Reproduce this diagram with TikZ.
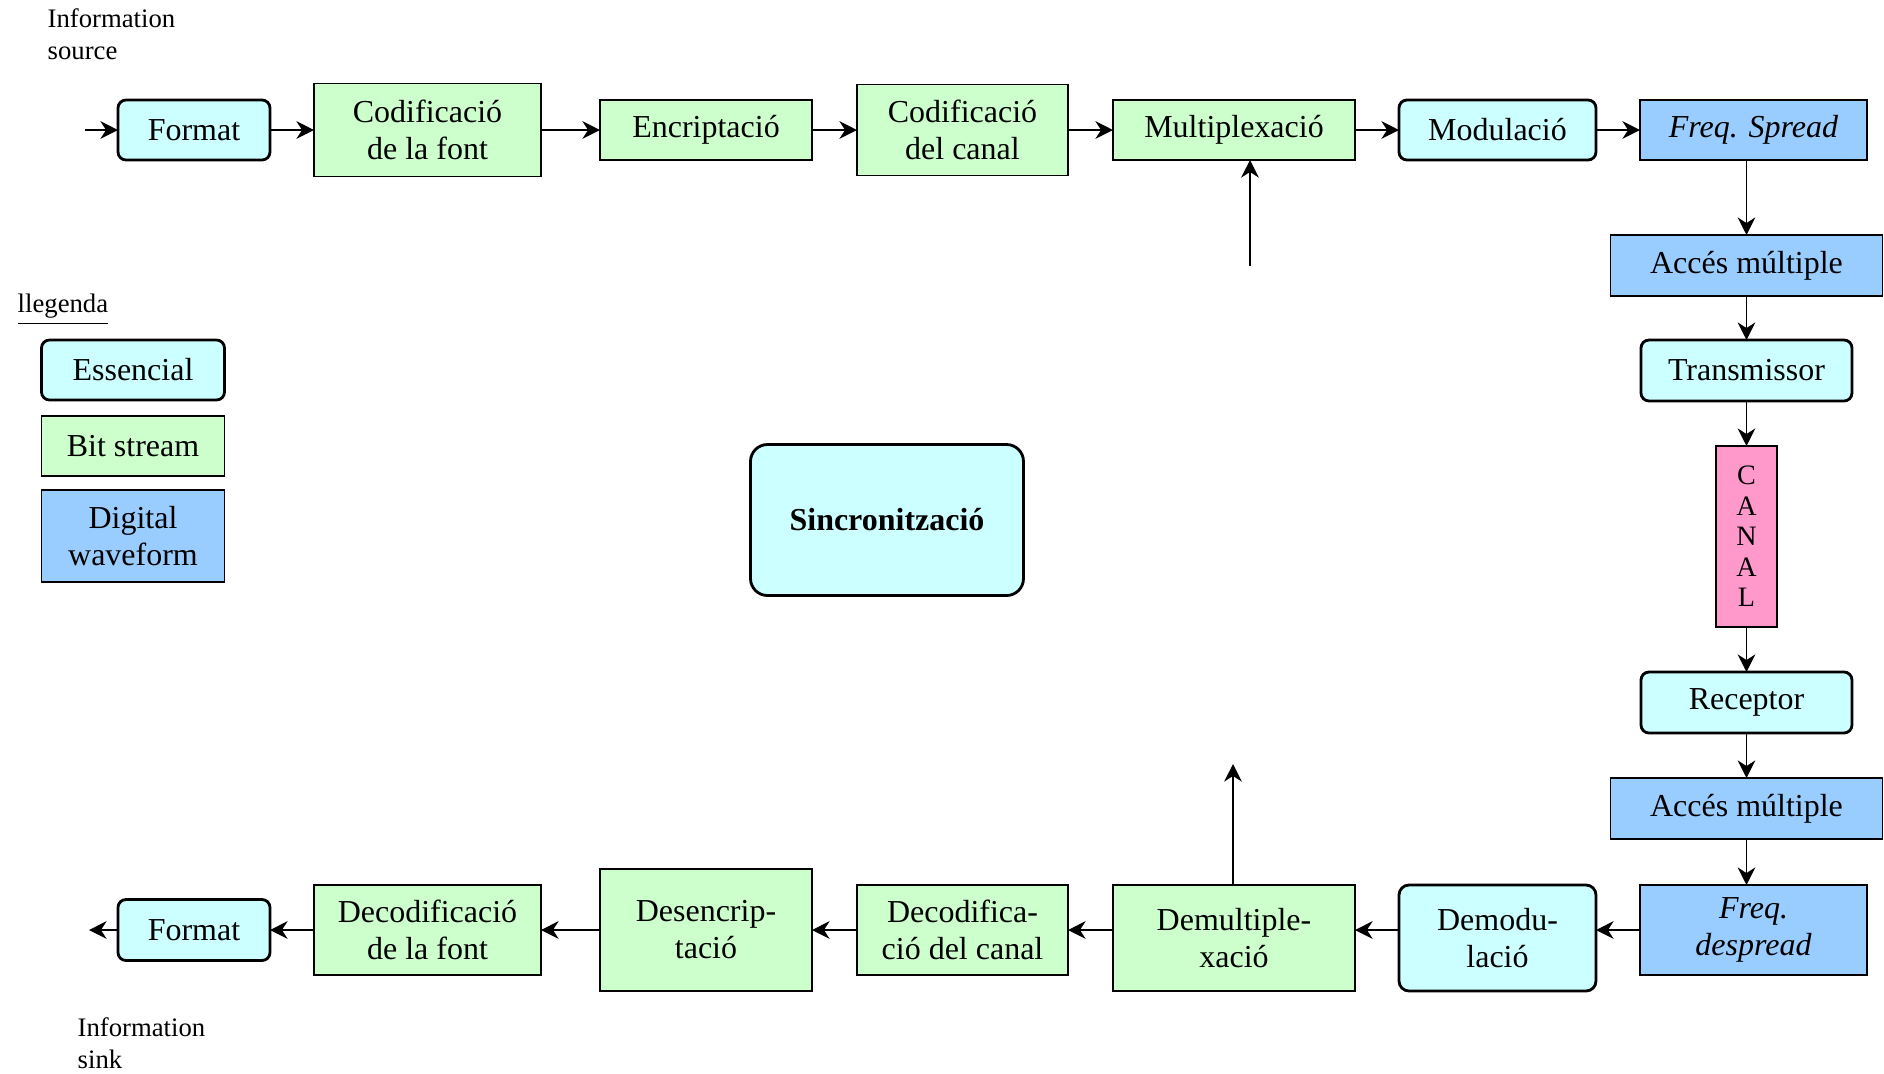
\documentclass[tikz,border=0pt]{standalone}
\usepackage{fontspec}
\setmainfont{Liberation Serif}
\usepackage{tikz}
\usetikzlibrary{positioning,arrows.meta}
\definecolor{esscyan}{RGB}{204,255,255}
\definecolor{bitgreen}{RGB}{204,255,204}
\definecolor{waveblue}{RGB}{153,204,255}
\definecolor{canalpink}{RGB}{255,153,204}

\begin{document}
\begin{tikzpicture}[
      ess/.style={rectangle, draw, fill=esscyan, rounded corners=0.08cm, line width=0.8pt, outer sep=0pt, minimum width=1.97cm, minimum height=0.61cm, inner sep=2pt, align=center, font=\fontsize{9.1}{10.5}\selectfont},
      bits/.style={rectangle, draw, fill=bitgreen, line width=0.5pt, outer sep=0pt, minimum height=0.60cm, inner sep=2pt, align=center, font=\fontsize{9.1}{10.5}\selectfont},
      wave/.style={rectangle, draw, fill=waveblue, line width=0.5pt, outer sep=0pt, minimum height=0.61cm, inner sep=2pt, align=center, font=\fontsize{9.1}{10.5}\selectfont},
      canalbox/.style={rectangle, draw, fill=canalpink, line width=0.5pt, outer sep=0pt, minimum width=0.61cm, minimum height=1.81cm, inner sep=1pt, align=center, font=\fontsize{8}{8.7}\selectfont},
      arrow/.style={-{Stealth[length=5pt, width=5pt, inset=1.6pt]}, line width=0.5pt},
      lab/.style={inner sep=0pt, align=left, font=\fontsize{7.6}{9.1}\selectfont}
    ]
    \useasboundingbox (0,0) rectangle (18.84,-10.73);

    \node[lab, anchor=north west] (source) at (0.47,-0.08) {Information\\source};
    \node[lab, anchor=north west] (sink) at (0.77,-10.17) {Information\\sink};

    % emissor
    \node[ess, minimum width=1.52cm, minimum height=0.60cm] (fmtA) at (1.94,-1.30) {Format};
    \node[bits, right=0.44cm of fmtA, minimum width=2.27cm, minimum height=0.93cm] (codfont) {Codificació\\de la font};
    \node[bits, right=0.59cm of codfont, minimum width=2.12cm] (encr) {Encriptació};
    \node[bits, right=0.45cm of encr, minimum width=2.11cm, minimum height=0.91cm] (codcanal) {Codificació\\del canal};
    \node[bits, right=0.45cm of codcanal, minimum width=2.42cm] (mux) {Multiplexació};
    \node[ess, right=0.44cm of mux, minimum height=0.60cm] (mod) {Modulació};
    \node[wave, right=0.44cm of mod, minimum width=2.27cm, minimum height=0.60cm] (spread) {\textit{Freq. Spread}};

    % canal
    \node[wave, below=0.75cm of spread, xshift=-0.07cm, minimum width=2.72cm] (accTx) {Accés múltiple};
    \node[ess, below=0.44cm of accTx, minimum width=2.11cm] (tx) {Transmissor};
    \node[canalbox, below=0.45cm of tx] (canal) {C\\A\\N\\A\\L};
    \node[ess, below=0.45cm of canal, minimum width=2.11cm] (rx) {Receptor};
    \node[wave, below=0.45cm of rx, minimum width=2.72cm] (accRx) {Accés múltiple};
    \node[wave, below=0.46cm of accRx, xshift=0.07cm, minimum width=2.27cm, minimum height=0.90cm] (despread) {\textit{Freq.}\\\textit{despread}};

    % receptor
    \node[ess, below left=0cm and 0.44cm of despread.north west, rounded corners=0.1cm, minimum height=1.06cm] (demod) {Demodu-\\lació};
    \node[bits, below left=0cm and 0.44cm of demod.north west, minimum width=2.42cm, minimum height=1.06cm] (demux) {Demultiple-\\xació};
    \node[bits, below left=0cm and 0.45cm of demux.north west, minimum width=2.11cm, minimum height=0.90cm] (deccanal) {Decodifica-\\ció del canal};
    \node[bits, left=0.45cm of deccanal, minimum width=2.12cm, minimum height=1.22cm] (desencr) {Desencrip-\\tació};
    \node[bits, left=0.59cm of desencr, minimum width=2.27cm, minimum height=0.90cm] (decfont) {Decodificació\\de la font};
    \node[ess, left=0.44cm of decfont, minimum width=1.52cm] (fmtB) {Format};

    % llegenda
    \node[lab, anchor=west] (legtitle) at (0.17,-3.10) {\underline{llegenda}};
    \node[ess, minimum width=1.83cm, minimum height=0.60cm] (legEss) at (1.33,-3.70) {Essencial};
    \node[bits, below=0.16cm of legEss, minimum width=1.83cm] (legBits) {Bit stream};
    \node[wave, below=0.14cm of legBits, minimum width=1.83cm, minimum height=0.92cm] (legWave) {Digital\\waveform};

    \node[ess, rounded corners=0.17cm, minimum width=2.73cm, minimum height=1.51cm, font=\fontsize{9.1}{10.5}\selectfont\bfseries] (sync) at (8.87,-5.20) {Sincronització};

    \coordinate (srcin) at (0.85,-1.30);
    \coordinate (sinkout) at (0.89,-9.28);
    \coordinate (muxin) at (12.50,-2.66);
    \coordinate (demuxout) at (12.33,-7.64);

    \draw[arrow] (srcin) -- (srcin -| fmtA.west);
    \draw[arrow] (fmtA) -- (codfont);
    \draw[arrow] (codfont) -- (encr);
    \draw[arrow] (encr) -- (codcanal);
    \draw[arrow] (codcanal) -- (mux);
    \draw[arrow] (mux) -- (mod);
    \draw[arrow] (mod) -- (spread);
    \draw[arrow] (muxin) -- (muxin |- mux.south);

    \draw[arrow] (spread.south -| accTx) -- (accTx);
    \draw[arrow] (accTx) -- (tx);
    \draw[arrow] (tx) -- (canal);
    \draw[arrow] (canal) -- (rx);
    \draw[arrow] (rx) -- (accRx);
    \draw[arrow] (accRx) -- (accRx |- despread.north);

    \draw[arrow] (despread.west) -- (despread.west -| demod.east);
    \draw[arrow] (demod.west |- despread.west) -- (demux.east |- despread.west);
    \draw[arrow] (demux.west |- deccanal) -- (deccanal);
    \draw[arrow] (deccanal) -- (desencr);
    \draw[arrow] (desencr) -- (decfont);
    \draw[arrow] (decfont) -- (fmtB);
    \draw[arrow] (fmtB.west) -- (fmtB.west -| sinkout);
    \draw[arrow] (demux.north -| demuxout) -- (demuxout);
\end{tikzpicture}
\end{document}
